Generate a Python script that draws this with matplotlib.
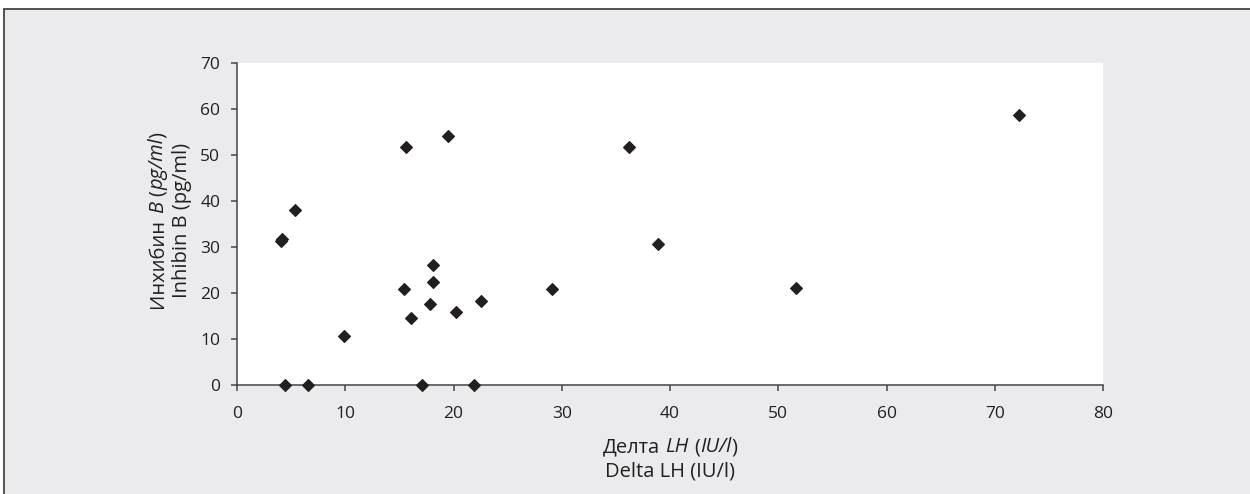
#!/usr/bin/env python3
# Inhibin B vs delta LH scatter

import matplotlib
matplotlib.use("Agg")
import matplotlib.pyplot as plt
from matplotlib.patches import Rectangle

# Data
delta_lh = [4.1, 4.2, 5.4, 4.4, 6.6, 9.9, 15.6, 19.5, 15.4, 16.1, 18.1, 18.1,
            17.8, 17.1, 20.2, 21.9, 22.5, 29.1, 36.2, 38.9, 51.6, 72.2]
inhibin_b = [31.3, 31.7, 38.0, 0.0, 0.0, 10.8, 51.7, 54.0, 20.8, 14.7, 26.0, 22.5,
             17.7, 0.0, 15.9, 0.0, 18.2, 20.8, 51.7, 30.7, 21.2, 58.6]
x_ticks = [0, 10, 20, 30, 40, 50, 60, 70, 80]
y_ticks = [0, 10, 20, 30, 40, 50, 60, 70]

# axis titles, (text, italic?) pieces
x_title_ru = [('Делта', False), (' ', False), ('LH', True), (' ', False),
              ('(', False), ('IU/l', True), (')', False)]
x_title_en = [('Delta LH (IU/l)', False)]
y_title_ru = [('Инхибин', False), (' ', False), ('B', True), (' ', False),
              ('(', False), ('pg/ml', True), (')', False)]
y_title_en = [('Inhibin B (pg/ml)', False)]

txt = '#231f20'
bg = '#ebebed'
tick_fs = 12.5
label_fs = 14.5
W, H = 1250, 494

plt.rcParams['font.family'] = ['Open Sans', 'DejaVu Sans']

fig = plt.figure(figsize=(W / 100, H / 100), dpi=100)
fig.patch.set_facecolor('white')
renderer = fig.canvas.get_renderer()

# grey panel with border (runs off right and bottom edge)
frame = Rectangle((4 / W, -0.05), 1.2, 1.05 - 9 / H,
                  transform=fig.transFigure, facecolor=bg,
                  edgecolor='#444444', lw=1.3, zorder=-10)
fig.patches.append(frame)

ax = fig.add_axes([237 / W, 1 - 385.3 / H, 866 / W, 322.6 / H])
ax.set_facecolor('white')

ax.plot(delta_lh, inhibin_b, linestyle='none', marker='D', ms=5.9, mew=0.8,
        color=txt, clip_on=False, zorder=3)

ax.set_xlim(0, 80)
ax.set_ylim(0, 70)
ax.set_xticks(x_ticks)
ax.set_yticks(y_ticks)

for s in ['top', 'right']:
    ax.spines[s].set_visible(False)
for s in ['left', 'bottom']:
    ax.spines[s].set_color('#444444')
    ax.spines[s].set_linewidth(1.1)

ax.tick_params(axis='both', direction='out', length=4.5, width=1.1,
               color='#444444', labelcolor=txt, labelsize=tick_fs)
ax.tick_params(axis='x', pad=10.5)
ax.tick_params(axis='y', pad=7.5)


def piece_width(s, italic):
    """ width in pixels of one text piece """
    if s == ' ':
        return piece_width('a a', False) - piece_width('aa', False)
    t = fig.text(0, 0, s, fontsize=label_fs,
                 style='italic' if italic else 'normal')
    w = t.get_window_extent(renderer).width
    t.remove()
    return w


def rich_line(pieces, cx, cy, vertical=False):
    """ draw a line of mixed upright/italic text centred on (cx, cy), pixels from top-left """
    widths = [piece_width(s, it) for s, it in pieces]
    pos = -sum(widths) / 2
    for (s, it), w in zip(pieces, widths):
        if s != ' ':
            if vertical:
                fx, fy = cx / W, 1 - (cy - pos) / H
            else:
                fx, fy = (cx + pos) / W, 1 - cy / H
            fig.text(fx, fy, s, fontsize=label_fs, color=txt,
                     style='italic' if it else 'normal',
                     rotation=90 if vertical else 0, rotation_mode='anchor',
                     ha='left', va='baseline')
        pos += w


# x title: baselines at 452 and 476 px
rich_line(x_title_ru, 670, 452)
rich_line(x_title_en, 670, 476)
# y title: baselines at 163 and 187 px
rich_line(y_title_ru, 163, 220, vertical=True)
rich_line(y_title_en, 187, 220, vertical=True)

fig.savefig('out.png', dpi=100)
